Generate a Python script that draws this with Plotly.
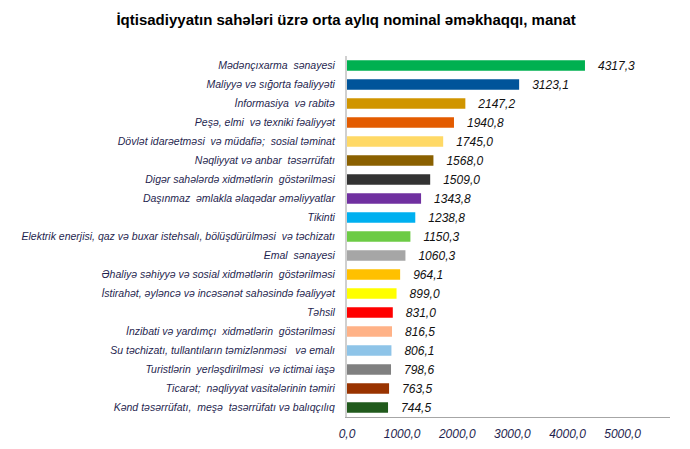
import plotly.graph_objects as go

# sectors, top to bottom
sectors = [
    "Mədənçıxarma  sənayesi",
    "Maliyyə və sığorta fəaliyyəti",
    "İnformasiya  və rabitə",
    "Peşə, elmi  və texniki fəaliyyət",
    "Dövlət idarəetməsi  və müdafiə;  sosial təminat",
    "Nəqliyyat və anbar  təsərrüfatı",
    "Digər sahələrdə xidmətlərin  göstərilməsi",
    "Daşınmaz  əmlakla əlaqədar əməliyyatlar",
    "Tikinti",
    "Elektrik enerjisi, qaz və buxar istehsalı, bölüşdürülməsi  və təchizatı",
    "Emal  sənayesi",
    "Əhaliyə səhiyyə və sosial xidmətlərin  göstərilməsi",
    "İstirahət, əyləncə və incəsənət sahəsində fəaliyyət",
    "Təhsil",
    "İnzibati və yardımçı  xidmətlərin  göstərilməsi",
    "Su təchizatı, tullantıların təmizlənməsi   və emalı",
    "Turistlərin  yerləşdirilməsi  və ictimai iaşə",
    "Ticarət;  nəqliyyat vasitələrinin təmiri",
    "Kənd təsərrüfatı,  meşə  təsərrüfatı və balıqçılıq",
]

wages = [4317.3, 3123.1, 2147.2, 1940.8, 1745.0, 1568.0, 1509.0, 1343.8, 1238.8,
         1150.3, 1060.3, 964.1, 899.0, 831.0, 816.5, 806.1, 798.6, 763.5, 744.5]

bar_colors = ["#00B050", "#00549A", "#D09500", "#E35B00", "#FFD966", "#8A6000",
              "#333333", "#7030A0", "#00B0F0", "#6CCB45", "#A6A6A6", "#FFC000",
              "#FFFF00", "#FF0000", "#FFB287", "#8EC4E8", "#808080", "#993300",
              "#215A1C"]

x_ticks = [0, 1000, 2000, 3000, 4000, 5000]

fig = go.Figure(go.Bar(
    x=wages,
    y=sectors,
    orientation="h",
    marker=dict(color=bar_colors, line=dict(width=0)),
    texttemplate="\u00a0\u00a0\u00a0%{x:.1f}",
    textposition="outside",
    constraintext="none",
    textfont=dict(family="Liberation Sans, Arial", size=12, color="#111111", style="italic"),
    cliponaxis=False,
))

# page body adds ~8px offset, so margins are shifted a bit
fig.update_layout(
    width=690, height=449,
    separators=",.",
    paper_bgcolor="white", plot_bgcolor="white",
    margin=dict(l=339, r=28, t=48, b=40),
    bargap=0.44,
    showlegend=False,
    font=dict(family="Liberation Sans, Arial"),
    title=dict(
        text="<b>İqtisadiyyatın sahələri üzrə orta aylıq nominal əməkhaqqı, manat</b>",
        x=0.49, xanchor="center", y=0.973, yanchor="middle",
        font=dict(family="Liberation Sans, Arial", size=15, color="#000000"),
    ),
)

fig.update_xaxes(
    range=[0, 5860],
    tickvals=x_ticks,
    tickformat=".1f",
    showgrid=False, zeroline=False,
    showline=True, linecolor="#A6A6A6", linewidth=1,
    ticks="", ticklabelstandoff=6,
    automargin=False,
    tickfont=dict(size=12, color="#1F1F4F", style="italic"),
)

fig.update_yaxes(
    autorange="reversed",
    showgrid=False, zeroline=False,
    showline=True, linecolor="#D0D0D0", linewidth=2,
    ticks="", ticklabelstandoff=8,
    automargin=False,
    tickfont=dict(size=10.5, color="#1F1F4F", style="italic"),
)

fig.write_html("out.html")
